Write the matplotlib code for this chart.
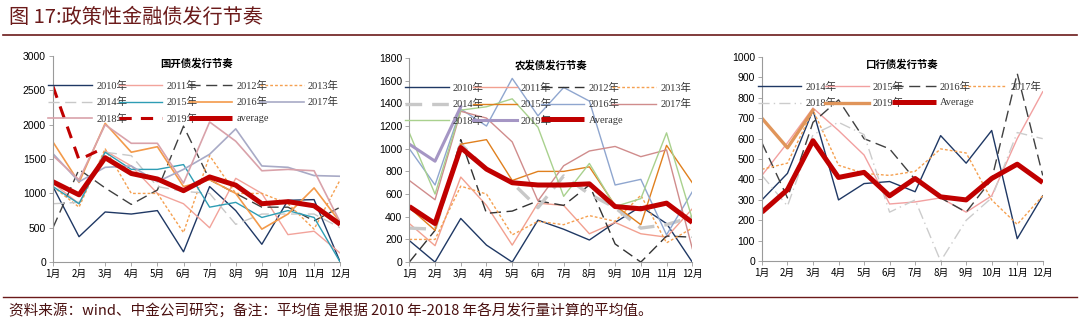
import matplotlib
matplotlib.use('Agg')
import matplotlib.pyplot as plt
from matplotlib.lines import Line2D

plt.rcParams['font.family'] = ['Liberation Serif', 'Noto Sans CJK SC', 'DejaVu Sans']

months = ['1月', '2月', '3月', '4月', '5月', '6月', '7月', '8月', '9月', '10月', '11月', '12月']

# 国开债
cdb_years = ['2010年', '2011年', '2012年', '2013年', '2014年', '2015年',
             '2016年', '2017年', '2018年', '2019年']
cdb_2010 = [1100, 370, 730, 700, 750, 150, 1100, 750, 260, 900, 910, 0]
cdb_2011 = [1150, 850, 1620, 1400, 1000, 850, 500, 1220, 1000, 400, 450, 130]
cdb_2012 = [500, 1350, 1080, 840, 1050, 1980, 1200, 1000, 800, 800, 600, 800]
cdb_2013 = [1100, 800, 1650, 1000, 1000, 430, 1550, 1000, 1000, 850, 480, 1200]
cdb_2014 = [850, 870, 1600, 1550, 1100, 1030, 1000, 550, 700, 700, 700, 500]
cdb_2015 = [1100, 850, 1600, 1350, 1350, 1420, 800, 870, 650, 750, 650, 0]
cdb_2016 = [1750, 1160, 2020, 1600, 1680, 1100, 1200, 1000, 480, 700, 1080, 580]
cdb_2017 = [1580, 1170, 1380, 1400, 1170, 1350, 1570, 1940, 1400, 1380, 1260, 1250]
cdb_2018 = [1550, 1200, 2000, 1730, 1730, 1150, 2040, 1760, 1330, 1350, 1330, 580]
cdb_2019 = [2560, 1490, 1670]
cdb_avg = [1170, 980, 1520, 1290, 1210, 1040, 1240, 1120, 850, 880, 820, 550]

# 农发债
adb_years = ['2010年', '2011年', '2012年', '2013年', '2014年', '2015年',
             '2016年', '2017年', '2018年', '2019年']
adb_2010 = [190, 0, 385, 150, 0, 370, 290, 195, 350, 490, 340, 0]
adb_2011 = [340, 145, 750, 500, 150, 520, 500, 250, 350, 250, 220, 470]
adb_2012 = [0, 280, 1080, 430, 450, 540, 500, 680, 160, 0, 230, 220]
adb_2013 = [200, 200, 670, 600, 240, 360, 330, 410, 360, 590, 170, 300]
adb_2014 = [300, 290, 1040, 820, 700, 480, 760, 600, 480, 300, 330, 400]
adb_2015 = [480, 280, 1040, 1080, 720, 800, 800, 840, 500, 330, 1030, 700]
adb_2016 = [1000, 680, 1350, 1200, 1620, 1290, 1540, 1420, 680, 730, 240, 620]
adb_2017 = [720, 550, 1330, 1270, 1060, 540, 850, 980, 1020, 930, 990, 120]
adb_2018 = [1140, 600, 1340, 1370, 1440, 1190, 580, 870, 490, 560, 1140, 380]
adb_2019 = [1040, 890, 1370]
adb_avg = [490, 340, 1010, 820, 700, 680, 680, 690, 490, 470, 520, 350]

# 口行债
exim_years = ['2014年', '2015年', '2016年', '2017年', '2018年', '2019年']
exim_2014 = [300, 430, 740, 300, 380, 390, 340, 615, 480, 640, 110, 320]
exim_2015 = [420, 580, 750, 640, 520, 280, 290, 310, 240, 320, 600, 830]
exim_2016 = [580, 310, 680, 790, 600, 550, 400, 310, 240, 400, 920, 420]
exim_2017 = [450, 480, 740, 470, 430, 420, 440, 550, 530, 300, 180, 320]
exim_2018 = [420, 270, 620, 680, 620, 240, 300, 0, 200, 310, 630, 600]
exim_2019 = [700, 555, 740]
exim_avg = [240, 350, 590, 410, 435, 320, 405, 315, 300, 405, 475, 385]

RED = '#c00000'
NAVY = '#1f3864'

fig = plt.figure(figsize=(10.8, 3.24), dpi=100)
fig.patch.set_facecolor('white')

# header and footer
fig.text(0.008, 0.945, '图 17:政策性金融债发行节奏', fontsize=14.5, color='#6b1a1a',
         family=['Noto Sans CJK SC'], va='center', ha='left')
fig.add_artist(Line2D([0.003, 0.997], [0.893, 0.893], color='#6b1a1a', lw=1.2))
fig.add_artist(Line2D([0.003, 0.997], [0.083, 0.083], color='#6b1a1a', lw=1.0))
fig.text(0.008, 0.04, '资料来源：wind、中金公司研究；备注：平均值 是根据 2010 年-2018 年各月发行量计算的平均值。',
         fontsize=10.5, color='#4a1010', va='center', ha='left',
         family=['Noto Sans CJK SC'])


def setup_axes(ax, title, ymax, step):
    x = list(range(len(months)))
    ax.set_xlim(0, len(months) - 1)
    ax.set_ylim(0, ymax)
    ax.set_yticks(range(0, ymax + 1, step))
    ax.set_xticks(x)
    ax.set_xticklabels(months, family=['Noto Sans CJK SC'], fontsize=7)
    for lab in ax.get_yticklabels():
        lab.set_family('Liberation Sans')
        lab.set_fontsize(7.5)
    for s in ['top', 'right']:
        ax.spines[s].set_visible(False)
    for s in ['left', 'bottom']:
        ax.spines[s].set_color('#9a9a9a')
        ax.spines[s].set_linewidth(0.8)
    ax.tick_params(length=3, width=0.6, color='#9a9a9a', pad=2)
    ax.text(0.5, 0.965, title, transform=ax.transAxes, ha='center', va='center',
            fontsize=7.5, fontweight='bold', family=['Noto Sans CJK SC'])
    return x


def add_legend(ax, ncol=4):
    # matplotlib fills columns first; reorder so entries read row by row
    handles, labels = ax.get_legend_handles_labels()
    n = len(handles)
    order = [i for c in range(ncol) for i in range(c, n, ncol)]
    leg = ax.legend([handles[i] for i in order], [labels[i] for i in order],
                    loc='upper left', bbox_to_anchor=(-0.03, 0.85, 1.04, 0.05), mode='expand',
                    ncol=ncol, frameon=False, fontsize=7.5, handlelength=4.2,
                    labelspacing=0.62, borderaxespad=0, handletextpad=0.4, columnspacing=0.6)
    for t in leg.get_texts():
        t.set_color('#333333')


# panel 1
ax1 = fig.add_axes([0.049, 0.191, 0.266, 0.636])
x = setup_axes(ax1, '国开债发行节奏', 3000, 500)
cdb_series = [cdb_2010, cdb_2011, cdb_2012, cdb_2013, cdb_2014, cdb_2015,
              cdb_2016, cdb_2017, cdb_2018, cdb_2019]
cdb_styles = [
    dict(color=NAVY, lw=1.0, ls='-'),
    dict(color='#f2a39b', lw=1.0, ls='-'),
    dict(color='#404040', lw=1.0, ls=(0, (8, 4))),
    dict(color='#f5a050', lw=1.0, ls=(0, (2, 1.5))),
    dict(color='#c8c8c8', lw=1.0, ls=(0, (8, 4))),
    dict(color='#2e9db4', lw=1.0, ls='-'),
    dict(color='#f39a4a', lw=1.2, ls='-'),
    dict(color='#a8aac6', lw=1.2, ls='-'),
    dict(color='#d9a2aa', lw=1.2, ls='-'),
    dict(color=RED, lw=2.2, ls=(0, (4, 3))),
]
for name, vals, st in zip(cdb_years, cdb_series, cdb_styles):
    ax1.plot(x[:len(vals)], vals, label=name, **st)
ax1.plot(x, cdb_avg, color=RED, lw=3.6, label='average', solid_capstyle='butt')
add_legend(ax1)

# panel 2
ax2 = fig.add_axes([0.379, 0.191, 0.262, 0.630])
x = setup_axes(ax2, '农发债发行节奏', 1800, 200)
adb_series = [adb_2010, adb_2011, adb_2012, adb_2013, adb_2014, adb_2015,
              adb_2016, adb_2017, adb_2018, adb_2019]
adb_styles = [
    dict(color=NAVY, lw=1.0, ls='-'),
    dict(color='#f2a090', lw=1.0, ls='-'),
    dict(color='#333333', lw=1.0, ls=(0, (8, 4))),
    dict(color='#f5a050', lw=1.0, ls=(0, (2, 1.5))),
    dict(color='#c8c8c8', lw=2.4, ls=(0, (5, 3))),
    dict(color='#e0801e', lw=1.0, ls='-'),
    dict(color='#8fa6cf', lw=1.0, ls='-'),
    dict(color='#d08c8c', lw=1.0, ls='-'),
    dict(color='#a9d18e', lw=1.0, ls='-'),
    dict(color='#a596c4', lw=2.2, ls='-'),
]
for name, vals, st in zip(adb_years, adb_series, adb_styles):
    ax2.plot(x[:len(vals)], vals, label=name, **st)
ax2.plot(x, adb_avg, color=RED, lw=3.6, label='Average', solid_capstyle='butt')
add_legend(ax2)

# panel 3
ax3 = fig.add_axes([0.7055, 0.194, 0.260, 0.630])
x = setup_axes(ax3, '口行债发行节奏', 1000, 100)
exim_series = [exim_2014, exim_2015, exim_2016, exim_2017, exim_2018, exim_2019]
exim_styles = [
    dict(color=NAVY, lw=1.0, ls='-'),
    dict(color='#f2a0a0', lw=1.0, ls='-'),
    dict(color='#404040', lw=1.0, ls=(0, (8, 4))),
    dict(color='#f5a050', lw=1.0, ls=(0, (2, 1.5))),
    dict(color='#cccccc', lw=1.0, ls=(0, (8, 3, 1, 3))),
    dict(color='#e0955a', lw=2.4, ls='-'),
]
for name, vals, st in zip(exim_years, exim_series, exim_styles):
    ax3.plot(x[:len(vals)], vals, label=name, **st)
ax3.plot(x, exim_avg, color=RED, lw=3.6, label='Average', solid_capstyle='butt')
add_legend(ax3)

plt.savefig('out.png', dpi=100, facecolor='white')
plt.close()
